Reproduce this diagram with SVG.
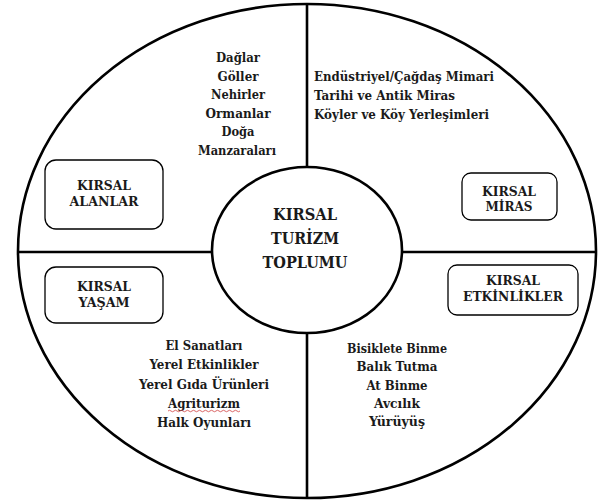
<svg xmlns="http://www.w3.org/2000/svg" width="598" height="501" viewBox="0 0 598 501">
<style>
.ln{fill:none;stroke:#000;stroke-width:2.6}
.box{fill:#fff;stroke:#000;stroke-width:1.3}
text{font-family:'DejaVu Serif Condensed','DejaVu Serif',serif;font-stretch:condensed;font-weight:700;fill:#1a1a1a}
.c{text-anchor:middle}
.lst{font-size:13.8px}
.lbl{font-size:12.8px;text-anchor:middle}
.ctr{font-size:16px;text-anchor:middle}
</style>
<rect width="598" height="501" fill="#fff"/>
<g id="outer">
<ellipse class="ln" cx="307" cy="251" rx="289" ry="247"/>
</g>
<g id="connectors">
<line class="ln" x1="307" y1="4" x2="307" y2="167"/>
<line class="ln" x1="307" y1="334" x2="307" y2="498"/>
<line class="ln" x1="18" y1="252" x2="212" y2="252"/>
<line class="ln" x1="402" y1="252" x2="596" y2="252"/>
</g>
<g id="center">
<ellipse class="ln" cx="307" cy="250" rx="95" ry="83"/>
<text class="ctr" x="305" y="220" textLength="64" lengthAdjust="spacingAndGlyphs">KIRSAL</text>
<text class="ctr" x="305" y="244" textLength="68" lengthAdjust="spacingAndGlyphs">TURİZM</text>
<text class="ctr" x="305" y="268" textLength="85" lengthAdjust="spacingAndGlyphs">TOPLUMU</text>
</g>
<g id="kirsal-alanlar">
<rect class="box" x="45" y="160" width="118" height="69" rx="11"/>
<text class="lbl" x="104" y="190" textLength="54" lengthAdjust="spacingAndGlyphs">KIRSAL</text>
<text class="lbl" x="104" y="206" textLength="69" lengthAdjust="spacingAndGlyphs">ALANLAR</text>
</g>
<g id="kirsal-miras">
<rect class="box" x="462" y="173" width="95" height="47" rx="9"/>
<text class="lbl" x="509" y="196" textLength="54" lengthAdjust="spacingAndGlyphs">KIRSAL</text>
<text class="lbl" x="509" y="211" textLength="47" lengthAdjust="spacingAndGlyphs">MİRAS</text>
</g>
<g id="kirsal-yasam">
<rect class="box" x="45" y="267" width="118" height="56" rx="11"/>
<text class="lbl" x="104" y="291" textLength="54" lengthAdjust="spacingAndGlyphs">KIRSAL</text>
<text class="lbl" x="104" y="307" textLength="51" lengthAdjust="spacingAndGlyphs">YAŞAM</text>
</g>
<g id="kirsal-etkinlikler">
<rect class="box" x="448" y="265" width="130" height="50" rx="9"/>
<text class="lbl" x="513" y="285" textLength="54" lengthAdjust="spacingAndGlyphs">KIRSAL</text>
<text class="lbl" x="513" y="301" textLength="100" lengthAdjust="spacingAndGlyphs">ETKİNLİKLER</text>
</g>
<g id="alanlar-list">
<text class="lst c" x="238" y="62" textLength="44" lengthAdjust="spacingAndGlyphs">Dağlar</text>
<text class="lst c" x="238" y="80.6" textLength="41" lengthAdjust="spacingAndGlyphs">Göller</text>
<text class="lst c" x="238" y="99.2" textLength="54" lengthAdjust="spacingAndGlyphs">Nehirler</text>
<text class="lst c" x="238" y="117.8" textLength="65" lengthAdjust="spacingAndGlyphs">Ormanlar</text>
<text class="lst c" x="238" y="136.4" textLength="33" lengthAdjust="spacingAndGlyphs">Doğa</text>
<text class="lst c" x="237" y="155" textLength="78" lengthAdjust="spacingAndGlyphs">Manzaraları</text>
</g>
<g id="miras-list">
<text class="lst" x="314" y="81" textLength="180" lengthAdjust="spacingAndGlyphs">Endüstriyel/Çağdaş Mimari</text>
<text class="lst" x="314" y="100" textLength="141" lengthAdjust="spacingAndGlyphs">Tarihi ve Antik Miras</text>
<text class="lst" x="314" y="119" textLength="175" lengthAdjust="spacingAndGlyphs">Köyler ve Köy Yerleşimleri</text>
</g>
<g id="yasam-list">
<text class="lst c" x="204" y="350" textLength="77" lengthAdjust="spacingAndGlyphs">El Sanatları</text>
<text class="lst c" x="204" y="369.3" textLength="109" lengthAdjust="spacingAndGlyphs">Yerel Etkinlikler</text>
<text class="lst c" x="204" y="388.5" textLength="130" lengthAdjust="spacingAndGlyphs">Yerel Gıda Ürünleri</text>
<text class="lst c" x="204" y="407.8" textLength="72" lengthAdjust="spacingAndGlyphs">Agriturizm</text>
<text class="lst c" x="204" y="427" textLength="94" lengthAdjust="spacingAndGlyphs">Halk Oyunları</text>
<path d="M168 411 q1.5 -1.5 3 0 t3 0 t3 0 t3 0 t3 0 t3 0 t3 0 t3 0 t3 0 t3 0 t3 0 t3 0 t3 0 t3 0 t3 0 t3 0 t3 0 t3 0 t3 0 t3 0 t3 0 t3 0 t3 0 t3 0" fill="none" stroke="#d04040" stroke-width="0.8"/>
</g>
<g id="etkinlikler-list">
<text class="lst c" x="397" y="352.5" textLength="100" lengthAdjust="spacingAndGlyphs">Bisiklete Binme</text>
<text class="lst c" x="397" y="371" textLength="81" lengthAdjust="spacingAndGlyphs">Balık Tutma</text>
<text class="lst c" x="397" y="389.5" textLength="61" lengthAdjust="spacingAndGlyphs">At Binme</text>
<text class="lst c" x="397" y="408" textLength="46" lengthAdjust="spacingAndGlyphs">Avcılık</text>
<text class="lst c" x="397" y="426" textLength="56" lengthAdjust="spacingAndGlyphs">Yürüyüş</text>
</g>
</svg>
